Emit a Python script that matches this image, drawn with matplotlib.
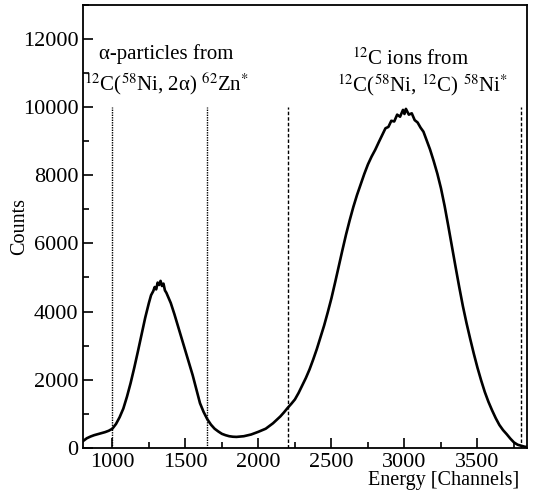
import numpy as np
import matplotlib
matplotlib.use('Agg')
import matplotlib.pyplot as plt
from matplotlib.ticker import MultipleLocator

plt.rcParams['font.family'] = ['Liberation Serif', 'DejaVu Serif']
plt.rcParams['mathtext.fontset'] = 'stix'
plt.rcParams['font.size'] = 15

# spectrum (channel, counts)
energy = [800, 825, 850, 875, 900, 925, 950, 975, 1000, 1025,
          1050, 1075, 1100, 1125, 1150, 1175, 1200, 1225, 1250, 1265,
          1280, 1290, 1300, 1310, 1320, 1330, 1340, 1350, 1360, 1370, 1380,
          1400, 1425, 1450, 1475, 1500, 1525, 1550, 1575, 1600, 1625,
          1650, 1675, 1700, 1725, 1750, 1775, 1800, 1825, 1850, 1875,
          1900, 1950, 2000, 2050, 2100, 2150, 2175,
          2200, 2225, 2250, 2275, 2300, 2325, 2350, 2375, 2400, 2425,
          2450, 2475, 2500, 2525, 2550, 2575, 2600, 2625, 2650, 2675,
          2700, 2725, 2750, 2775, 2800, 2825,
          2850, 2870, 2890, 2910, 2930, 2950, 2970, 2990, 3000, 3010,
          3030, 3050, 3070, 3090, 3110, 3130, 3150,
          3175, 3200, 3225, 3250, 3275, 3300, 3325, 3350, 3375, 3400,
          3425, 3450, 3475, 3500, 3525, 3550, 3575, 3600, 3625, 3650,
          3675, 3700, 3725, 3750, 3775, 3800, 3820, 3840]
counts = [200, 280, 330, 370, 400, 430, 460, 500, 560, 700,
          900, 1150, 1500, 1900, 2350, 2830, 3330, 3820, 4250, 4480,
          4600, 4720, 4650, 4850, 4780, 4900, 4750, 4820, 4620, 4550, 4450,
          4250, 3920, 3560, 3200, 2840, 2480, 2130, 1720, 1310, 1050,
          840, 680, 560, 480, 410, 370, 340, 325, 320, 330,
          340, 390, 470, 560, 720, 920, 1040,
          1170, 1290, 1420, 1610, 1830, 2050, 2300, 2590, 2900, 3240,
          3590, 3980, 4390, 4850, 5330, 5800, 6260, 6680, 7070, 7420,
          7730, 8040, 8320, 8550, 8750, 8980,
          9200, 9380, 9420, 9600, 9580, 9780, 9720, 9920, 9800, 9950,
          9780, 9820, 9620, 9550, 9400, 9280, 9050,
          8760, 8420, 8050, 7620, 7100, 6515, 5910, 5310, 4720, 4160,
          3660, 3200, 2760, 2350, 1980, 1640, 1350, 1100, 870, 670,
          520, 400, 270, 157, 90, 60, 35, 20]

# gate markers
dotted_gates = [1000, 1650]
dashed_gates = [2200, 3800]
gate_top = 10000

fig = plt.figure(figsize=(5.33, 4.97), dpi=100)
ax = fig.add_axes([0.156, 0.099, 0.833, 0.891])

ax.plot(energy, counts, color='black', lw=1.9)
for g in dotted_gates:
    ax.plot([g, g], [0, gate_top], color='black', lw=1.0, ls=(0, (1, 0.8)))
for g in dashed_gates:
    ax.plot([g, g], [0, gate_top], color='black', lw=1.0, ls=(0, (2.5, 1.5)))

ax.text(1370, 11550, 'α-particles from', ha='center', va='center')
ax.text(1370, 10700, r'$^{12}$C($^{58}$Ni, 2α) $^{62}$Zn$^{*}$', ha='center', va='center')
ax.text(3040, 11400, r'$^{12}$C ions from', ha='center', va='center')
ax.text(3125, 10650, r'$^{12}$C($^{58}$Ni, $^{12}$C) $^{58}$Ni$^{*}$', ha='center', va='center')

ax.set_xlim(800, 3840)
ax.set_ylim(0, 13000)
ax.xaxis.set_major_locator(MultipleLocator(500))
ax.xaxis.set_minor_locator(MultipleLocator(250))
ax.yaxis.set_major_locator(MultipleLocator(2000))
ax.yaxis.set_minor_locator(MultipleLocator(1000))
ax.tick_params(which='both', direction='in', top=False, right=False, labelsize=16)
ax.tick_params(which='major', length=7, width=1.2)
ax.tick_params(which='minor', length=4, width=1.2)
for s in ax.spines.values():
    s.set_linewidth(1.3)

ax.set_xlabel('Energy [Channels]', loc='right', fontsize=14.5)
ax.xaxis.set_label_coords(0.982, -0.052)
ax.set_ylabel('Counts', fontsize=14.5)
ax.yaxis.set_label_coords(-0.122, 0.5)

fig.savefig('out.png', dpi=100)
